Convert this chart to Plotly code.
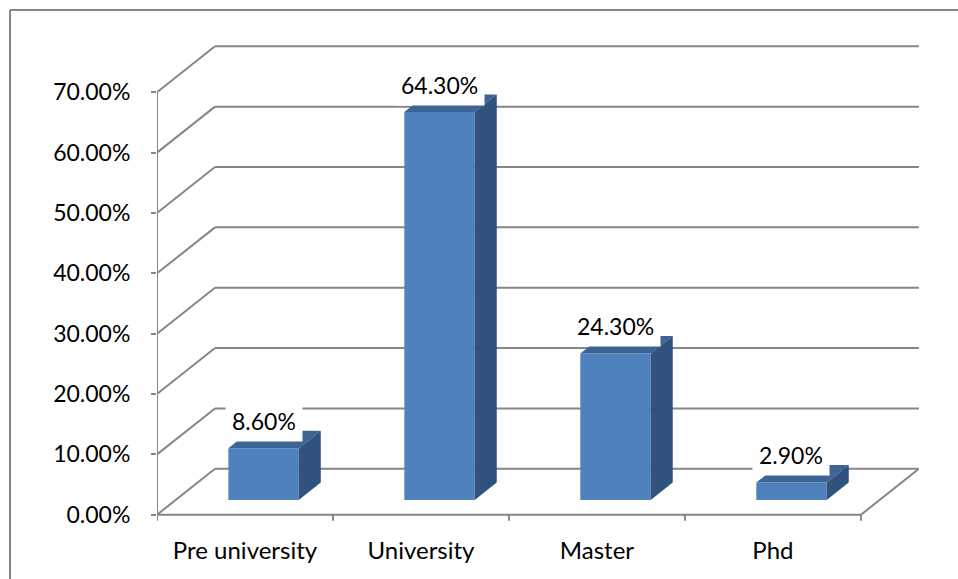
import plotly.graph_objects as go

categories = ["Pre university", "University", "Master", "Phd"]
values = [8.6, 64.3, 24.3, 2.9]
y_ticks = [0, 10, 20, 30, 40, 50, 60, 70]
y_tick_labels = [f"{v:.2f}%" for v in y_ticks]

# layout geometry
W, H = 958, 579
ML, MR, MT, MB = 157, 39, 44, 57
X0, X1 = -0.5, 3.83
Y0, Y1 = -1.2, 78.0
DX, DY = 0.3295, 7.62       # full depth offset (x units, y units)
F0, F1 = 0.32, 0.70         # bar depth start/end fractions
HW = 0.2                    # bar half width
LABEL_LIFT = 4.5            # label centre above bar front-top (y units)
GRID = "#868686"
FRONT = "#4F81BD"
TOP = "#3C6494"
SIDE = "#30527C"
FONT = "Lato"

fig = go.Figure()

def line(xs, ys, color=GRID, width=2):
    fig.add_trace(go.Scatter(x=xs, y=ys, mode="lines", line=dict(color=color, width=width),
                             hoverinfo="skip", showlegend=False))

# back wall gridlines and side diagonals
xs, ys = [], []
left, right = -0.5, len(categories) - 0.5
for v in y_ticks:
    xs += [left + DX, right + DX, None]
    ys += [v + DY, v + DY, None]
    xs += [left, left + DX, None]
    ys += [v, v + DY, None]
line(xs, ys)
# floor front and right edges
line([left, right, right + DX], [0, 0, DY])
# front-left vertical axis
line([left, left], [0, max(y_ticks)])
# category boundary ticks
tx, ty = [], []
for k in range(len(categories) + 1):
    tx += [left + k, left + k, None]
    ty += [0, -1.0, None]
line(tx, ty)

# bars as 3D prisms
fx, fy = F0 * DX, F0 * DY
ddx, ddy = (F1 - F0) * DX, (F1 - F0) * DY
for i, v in enumerate(values):
    x0, x1 = i - HW + fx, i + HW + fx
    b, t = fy, v + fy
    fig.add_trace(go.Scatter(x=[x0, x1, x1, x0, x0], y=[b, b, t, t, b], fill="toself",
                             fillcolor=FRONT, mode="lines", line=dict(width=0, color=FRONT),
                             hoverinfo="skip", showlegend=False))
    fig.add_trace(go.Scatter(x=[x0, x1, x1 + ddx, x0 + ddx, x0], y=[t, t, t + ddy, t + ddy, t],
                             fill="toself", fillcolor=TOP, mode="lines",
                             line=dict(width=0, color=TOP), hoverinfo="skip", showlegend=False))
    fig.add_trace(go.Scatter(x=[x1, x1 + ddx, x1 + ddx, x1, x1], y=[b, b + ddy, t + ddy, t, b],
                             fill="toself", fillcolor=SIDE, mode="lines",
                             line=dict(width=0, color=SIDE), hoverinfo="skip", showlegend=False))
    fig.add_annotation(x=i + fx, y=t + LABEL_LIFT, text=f"{v:.2f}%", showarrow=False,
                       xanchor="center", yanchor="middle", bgcolor="white", borderpad=6,
                       font=dict(family=FONT, size=23, color="black"))

pw = W - ML - MR
ph = H - MT - MB
# outer chart frame (left and top edges)
px = lambda p: (p - ML) / pw
py = lambda p: (H - MB - p) / ph
fig.add_shape(type="line", xref="paper", yref="paper", x0=px(10), x1=px(10), y0=py(10), y1=py(590),
              line=dict(color=GRID, width=2))
fig.add_shape(type="line", xref="paper", yref="paper", x0=px(10), x1=px(970), y0=py(10), y1=py(10),
              line=dict(color=GRID, width=2))

fig.update_layout(
    width=W, height=H,
    margin=dict(l=ML, r=MR, t=MT, b=MB),
    paper_bgcolor="white", plot_bgcolor="white",
    showlegend=False,
    xaxis=dict(range=[X0, X1], tickvals=list(range(len(categories))), ticktext=categories,
               showgrid=False, zeroline=False, showline=False, ticks="",
               ticklabelstandoff=12, tickfont=dict(family=FONT, size=24, color="black")),
    yaxis=dict(range=[Y0, Y1], tickvals=y_ticks, ticktext=y_tick_labels,
               showgrid=False, zeroline=False, showline=False, ticks="outside",
               ticklen=5, tickwidth=2, tickcolor=GRID, ticklabelstandoff=16,
               tickfont=dict(family=FONT, size=23, color="black")),
)

fig.write_html("out.html")
